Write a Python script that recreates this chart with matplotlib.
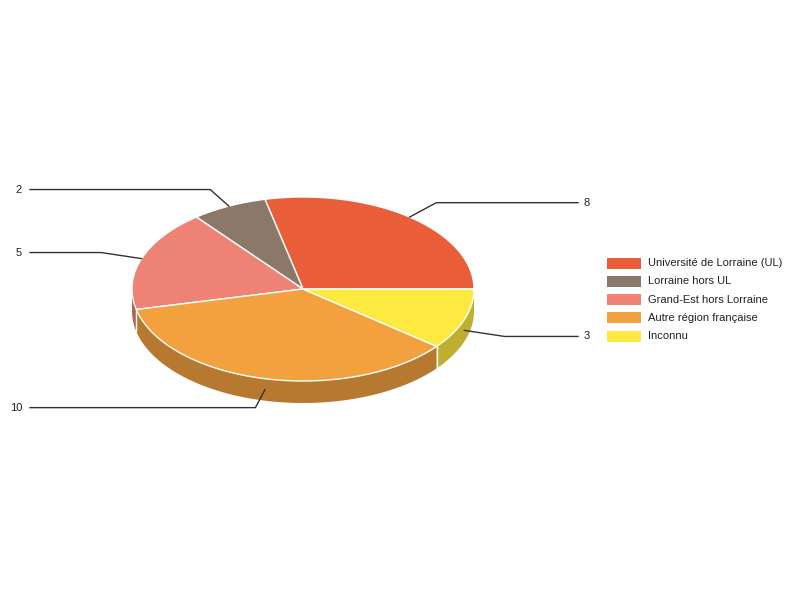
import numpy as np
import matplotlib.pyplot as plt
from matplotlib.patches import Polygon, Rectangle
from matplotlib.colors import to_rgb

plt.rcParams['font.family'] = ['Liberation Sans', 'DejaVu Sans']

# data
categories = ['Université de Lorraine (UL)', 'Lorraine hors UL', 'Grand-Est hors Lorraine',
              'Autre région française', 'Inconnu']
values = [8, 2, 5, 10, 3]
colors = ['#E95E38', '#8B7868', '#EE8275', '#F3A13F', '#FEE941']

# pie geometry (pixel coords)
cx, cy = 303, 289
rx, ry = 171, 92
depth = 22

fig = plt.figure(figsize=(8, 6), dpi=100)
ax = fig.add_axes([0, 0, 1, 1])
ax.set_xlim(0, 800)
ax.set_ylim(600, 0)
ax.axis('off')


def pt(a, dy=0.0, k=1.0, ky=None):
    ky = k if ky is None else ky
    return cx + k * rx * np.cos(a), cy - ky * ry * np.sin(a) + dy


def darker(c, f=0.75):
    r, g, b = to_rgb(c)
    return (r * f, g * f, b * f)


total = sum(values)
bounds = np.concatenate([[0], np.cumsum(values)]) / total * 2 * np.pi

# sides (visible lower half only)
for i, c in enumerate(colors):
    a0, a1 = bounds[i], bounds[i + 1]
    s0, s1 = max(a0, np.pi), min(a1, 2 * np.pi)
    if s1 <= s0:
        continue
    t = np.linspace(s0, s1, 80)
    top = [pt(a) for a in t]
    bot = [pt(a, depth) for a in t[::-1]]
    ax.add_patch(Polygon(top + bot, closed=True, facecolor=darker(c),
                         edgecolor='none', zorder=1))
    # white seam on side at slice boundary
    if np.pi < a0 < 2 * np.pi:
        x0, y0 = pt(a0)
        ax.plot([x0, x0], [y0, y0 + depth], color='white', lw=1, zorder=1.5)

# tops
for i, c in enumerate(colors):
    t = np.linspace(bounds[i], bounds[i + 1], 120)
    verts = [(cx, cy)] + [pt(a) for a in t]
    ax.add_patch(Polygon(verts, closed=True, facecolor=c, edgecolor='white',
                         lw=1, zorder=2))

# leader lines and value labels
for i, v in enumerate(values):
    m = (bounds[i] + bounds[i + 1]) / 2
    off = depth / 2 if np.sin(m) < 0 else 0
    x0, y0 = pt(m, off)
    x1, y1 = pt(m, off, k=1.25, ky=1.2)
    right = np.cos(m) > 0
    x2 = 578 if right else 30
    ax.plot([x0, x1, x2], [y0, y1, y1], color='#333333', lw=1, zorder=3)
    if right:
        ax.text(x2 + 6, y1, str(v), ha='left', va='center', fontsize=8, color='#222222')
    else:
        ax.text(x2 - 8, y1, str(v), ha='right', va='center', fontsize=8, color='#222222')

# legend
for i, (lab, c) in enumerate(zip(categories, colors)):
    y = 263 + i * 18.3
    ax.add_patch(Rectangle((607, y - 5.5), 34, 11, facecolor=c, edgecolor='none'))
    ax.text(648, y, lab, ha='left', va='center', fontsize=8, color='#222222')

fig.savefig('out.png', dpi=100)
